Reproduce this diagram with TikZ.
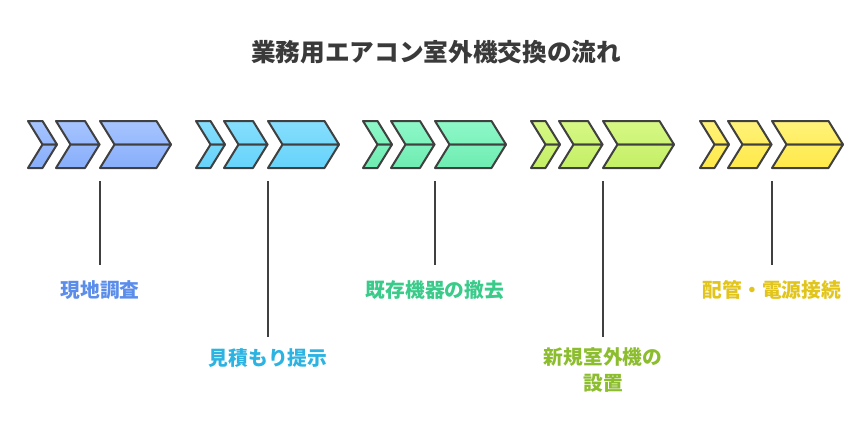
\documentclass[tikz,border=0pt]{standalone}
\usepackage{fontspec}
\setmainfont{Noto Sans CJK JP}
\definecolor{edgegray}{HTML}{404040}
\definecolor{titlegray}{HTML}{3A3A3A}
\definecolor{blueA}{HTML}{A6C4FE}
\definecolor{blueB}{HTML}{88AEFB}
\definecolor{cyanA}{HTML}{86DEFD}
\definecolor{cyanB}{HTML}{66D3FA}
\definecolor{greenA}{HTML}{8EF8C9}
\definecolor{greenB}{HTML}{6EECB1}
\definecolor{limeA}{HTML}{D6F886}
\definecolor{limeB}{HTML}{C4EF64}
\definecolor{yellowA}{HTML}{FFF27A}
\definecolor{yellowB}{HTML}{FFE948}
\definecolor{blueT}{HTML}{5B8DEB}
\definecolor{cyanT}{HTML}{2DB3E2}
\definecolor{greenT}{HTML}{3ACB8A}
\definecolor{limeT}{HTML}{8CBD2E}
\definecolor{yellowT}{HTML}{E2C51C}
\tikzset{
  chev/.style={draw=edgegray, line width=1.5pt, line join=round},
  stem/.style={draw=edgegray, line width=1.5pt},
  steplabel/.style={font=\bfseries\fontsize{14.8}{19}\selectfont, align=center, inner sep=0pt}
}
\begin{document}
\begin{tikzpicture}[x=0.75pt,y=-0.75pt]
  \useasboundingbox (0,0) rectangle (868,437);
  \node[font=\bfseries\fontsize{18.5}{22}\selectfont, text=titlegray] (title) at (436,52) {業務用エアコン室外機交換の流れ};
  % chevron groups
  \foreach \i/\x/\ca/\cb in {1/28/blueA/blueB, 2/196/cyanA/cyanB, 3/363/greenA/greenB, 4/531/limeA/limeB, 5/700/yellowA/yellowB} {
    \foreach \l/\w in {0/14.5, 28/29, 72/56.5} {
      \draw[chev, top color=\ca, bottom color=\ca!50!\cb] (\x+\l,121) -- ++(\w,0) -- ++(14.5,23.5) -- ++(-\w,0) -- cycle;
      \draw[chev, top color=\ca!50!\cb, bottom color=\cb] (\x+\l+14.5,144.5) -- ++(\w,0) -- ++(-14.5,23.5) -- ++(-\w,0) -- cycle;
    }
    \coordinate (top\i) at (\x+72,181);
  }
  % labels
  \node[steplabel, text=blueT] (l1) at (100,290) {現地調査};
  \node[steplabel, text=cyanT] (l2) at (268,358) {見積もり提示};
  \node[steplabel, text=greenT] (l3) at (435,290) {既存機器の撤去};
  \node[steplabel, text=limeT] (l4) at (603,370) {新規室外機の\\設置};
  \node[steplabel, text=yellowT] (l5) at (772,290) {配管・電源接続};
  \coordinate (end1) at (100,265);
  \coordinate (end2) at (268,337);
  \coordinate (end3) at (435,265);
  \coordinate (end4) at (603,337);
  \coordinate (end5) at (772,265);
  \draw[stem] (top1) -- (end1);
  \draw[stem] (top2) -- (end2);
  \draw[stem] (top3) -- (end3);
  \draw[stem] (top4) -- (end4);
  \draw[stem] (top5) -- (end5);
\end{tikzpicture}
\end{document}
